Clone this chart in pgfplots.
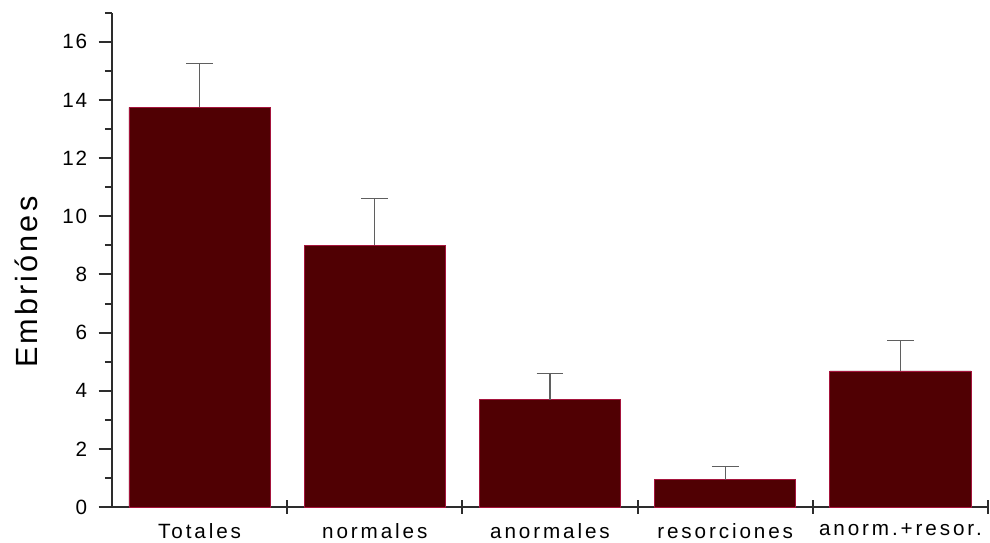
\documentclass[border=0pt]{standalone}
\usepackage{fontspec}
\setmainfont{Liberation Sans}
\usepackage{pgfplots}
\usepackage{pgfplotstable}
\pgfplotsset{compat=1.18}

\definecolor{barfill}{RGB}{80,0,3}
\definecolor{baredge}{RGB}{165,20,60}
\definecolor{axisgray}{RGB}{45,45,45}
\definecolor{errgray}{RGB}{95,95,95}

% mean number of embryos and upper standard error
\pgfplotstableread{
x  y      e
0  13.75  1.51
1  9.01   1.59
2  3.69   0.89
3  0.94   0.44
4  4.68   1.06
}\embryos

\begin{document}
\begin{tikzpicture}
\begin{axis}[
  name=ax,
  scale only axis,
  width=657pt, height=370.65pt,
  xmin=-0.5, xmax=4.5, ymin=0, ymax=17,
  axis x line=bottom, axis y line=left,
  axis line style={-, line width=1.5pt, color=axisgray},
  every tick/.style={line width=1.5pt, color=axisgray},
  xtick={0.5,1.5,2.5,3.5,4.5}, xticklabels={},
  xtick align=center,
  ytick={0,2,...,16},
  minor ytick={1,3,...,17},
  ytick align=outside,
  major tick length=10pt,
  minor tick length=5.25pt,
  /pgf/number format/assume math mode=true,
  yticklabel style={font=\fontsize{15.5}{17}\selectfont\addfontfeature{LetterSpace=8},
    text=black, inner sep=0pt, xshift=-8.5pt},
  extra x ticks={0,1,2,3,4},
  extra x tick labels={Totales,normales,anormales,resorciones,anorm.+resor.},
  extra x tick style={
    major tick length=0pt,
    xticklabel style={font=\fontsize{15.5}{18}\selectfont\addfontfeature{LetterSpace=14},
      text=black, inner sep=0pt, anchor=north, yshift=-12.5pt},
  },
  ylabel={Embriónes},
  ylabel style={font=\fontsize{23}{26}\selectfont\addfontfeature{LetterSpace=10},
    at={(axis description cs:-0.098,0.455)}, anchor=center, rotate=0},
  clip=false,
]
\addplot[ybar, bar width=0.806, fill=barfill, draw=baredge, line width=0.6pt,
  error bars/.cd, y dir=plus, y explicit,
  error bar style={color=errgray, line width=0.9pt},
  error mark options={rotate=90, mark size=10pt, line width=0.9pt, color=errgray}]
  table[x=x, y=y, y error=e]{\embryos};
\end{axis}
\path (ax.south west) ++(-84pt,-26.25pt) coordinate (bl);
\path (ax.north east) ++(1.5pt,9.6pt) coordinate (tr);
\pgfresetboundingbox
\path (bl) rectangle (tr);
\end{tikzpicture}
\end{document}
